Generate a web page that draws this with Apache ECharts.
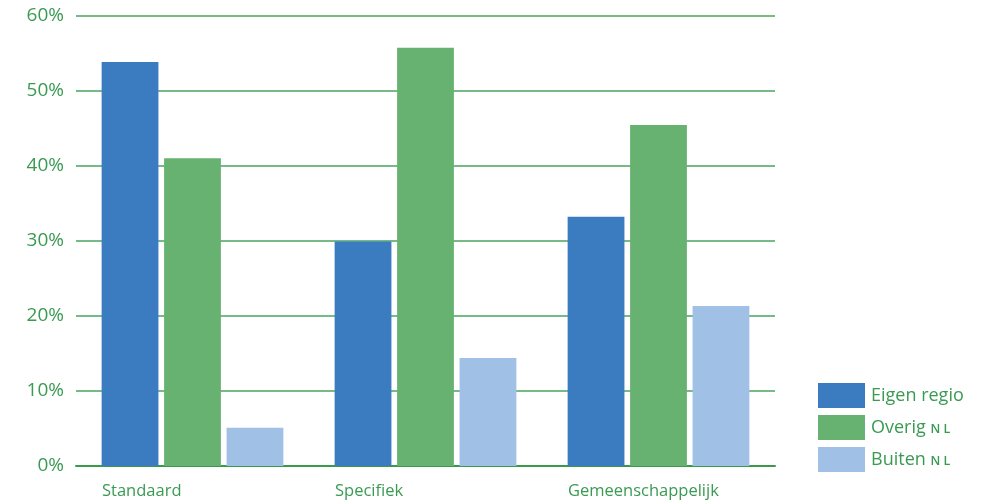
<!DOCTYPE html>
<html>
<head>
<meta charset="utf-8">
<script src="https://cdn.jsdelivr.net/npm/echarts@6/dist/echarts.min.js"></script>
<style>
  html, body { margin: 0; padding: 0; background: #ffffff; }
  #chart { width: 983px; height: 504px; }
</style>
</head>
<body>
<div id="chart"></div>
<script>
// Categories and shares (percent) per origin
const categories = ['Standaard', 'Specifiek', 'Gemeenschappelijk'];
const seriesNames = ['Eigen regio', 'Overig NL', 'Buiten NL'];
const eigenRegio = [53.8, 29.9, 33.2];
const overigNL = [41.0, 55.7, 45.4];
const buitenNL = [5.1, 14.4, 21.3];
const yTicks = [0, 10, 20, 30, 40, 50, 60];

const colors = ['#3b7bc0', '#67b171', '#a0c0e6'];
const textGreen = '#3a9a52';
const fontFamily = '"Open Sans", "Noto Sans", sans-serif';

const chart = echarts.init(document.getElementById('chart'), null, { renderer: 'canvas' });

const seriesValues = [eigenRegio, overigNL, buitenNL];

chart.setOption({
  animation: false,
  backgroundColor: '#ffffff',
  color: colors,
  grid: { left: 76, right: 208, top: 15.5, bottom: 38, containLabel: false },
  legend: {
    orient: 'vertical',
    left: 818,
    top: 383,
    padding: 0,
    itemWidth: 47,
    itemHeight: 25,
    itemGap: 7,
    icon: 'rect',
    data: seriesNames,
    formatter: function (name) {
      return name.replace(/ NL$/, ' {sc|N L}');
    },
    textStyle: {
      color: textGreen,
      fontFamily: fontFamily,
      fontSize: 18,
      padding: [0, 0, 0, 1],
      rich: {
        sc: { fontSize: 12.5, color: textGreen, fontFamily: fontFamily, fontWeight: 600, padding: [4, 0, 0, 0] }
      }
    }
  },
  xAxis: {
    type: 'category',
    data: categories,
    axisLine: { show: true, lineStyle: { color: '#3a9a4c', width: 2 } },
    axisTick: { show: false },
    splitLine: { show: false },
    axisLabel: {
      interval: 0,
      hideOverlap: false,
      color: textGreen,
      fontFamily: fontFamily,
      fontSize: 16.5,
      margin: 17,
      align: 'center',
      formatter: function (v) { return '{g|' + v + '}'; },
      rich: {
        g: { width: 181, align: 'left', color: textGreen, fontFamily: fontFamily, fontSize: 16.5 }
      }
    }
  },
  yAxis: {
    type: 'value',
    min: yTicks[0],
    max: yTicks[yTicks.length - 1],
    interval: 10,
    axisLine: { show: false },
    axisTick: { show: false },
    axisLabel: {
      color: textGreen,
      fontFamily: fontFamily,
      fontSize: 19,
      margin: 12,
      formatter: function (v) { return v + '%'; }
    },
    splitLine: { show: true, lineStyle: { color: '#49a55c', width: 1.5 } }
  },
  series: seriesNames.map(function (name, i) {
    return {
      name: name,
      type: 'bar',
      data: seriesValues[i],
      barGap: '10%',
      barCategoryGap: '22%',
      itemStyle: { color: colors[i] }
    };
  })
});
</script>
</body>
</html>
